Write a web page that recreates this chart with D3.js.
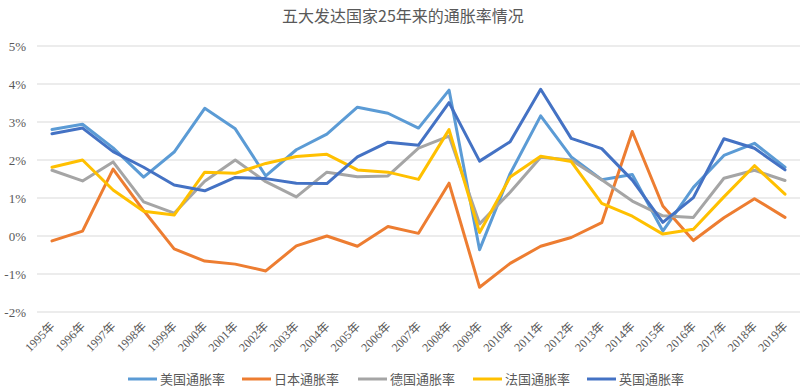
<!DOCTYPE html>
<html>
<head>
<meta charset="utf-8">
<script src="https://cdn.jsdelivr.net/npm/d3@7"></script>
<style>
  html, body { margin: 0; padding: 0; background: #fff; }
  svg { display: block; }
</style>
</head>
<body>
<svg id="chart" width="800" height="391"></svg>
<script>
const title = "五大发达国家25年来的通胀率情况";
const years = ["1995年","1996年","1997年","1998年","1999年","2000年","2001年","2002年","2003年","2004年","2005年","2006年","2007年","2008年","2009年","2010年","2011年","2012年","2013年","2014年","2015年","2016年","2017年","2018年","2019年"];
const seriesNames = ["美国通胀率","日本通胀率","德国通胀率","法国通胀率","英国通胀率"];
const seriesColors = ["#5B9BD5","#ED7D31","#A5A5A5","#FFC000","#4472C4"];
const usValues = [2.80,2.94,2.32,1.55,2.21,3.36,2.82,1.58,2.27,2.68,3.39,3.23,2.84,3.84,-0.36,1.64,3.16,2.08,1.48,1.62,0.13,1.28,2.12,2.44,1.81];
const jpValues = [-0.13,0.13,1.76,0.67,-0.34,-0.66,-0.74,-0.92,-0.26,0.00,-0.27,0.25,0.07,1.39,-1.35,-0.72,-0.27,-0.04,0.35,2.75,0.79,-0.12,0.48,0.98,0.49];
const deValues = [1.73,1.45,1.95,0.90,0.60,1.44,2.00,1.43,1.03,1.68,1.56,1.58,2.31,2.63,0.32,1.15,2.07,2.00,1.48,0.92,0.53,0.49,1.52,1.73,1.46];
const frValues = [1.81,2.00,1.21,0.65,0.55,1.68,1.65,1.91,2.09,2.15,1.74,1.68,1.49,2.80,0.09,1.55,2.10,1.96,0.86,0.52,0.05,0.18,1.03,1.85,1.10];
const ukValues = [2.69,2.84,2.22,1.81,1.34,1.19,1.54,1.51,1.39,1.38,2.08,2.47,2.39,3.51,1.97,2.48,3.86,2.57,2.30,1.47,0.36,1.01,2.56,2.31,1.74];
const yTicks = [-2,-1,0,1,2,3,4,5];

const allSeries = [usValues, jpValues, deValues, frValues, ukValues];

const svg = d3.select("#chart");
const x = d3.scalePoint().domain(years).range([52, 785]);
const y = d3.scaleLinear().domain([-2, 5]).range([312, 46]);

// title
svg.append("text")
  .attr("x", 403).attr("y", 22)
  .attr("text-anchor", "middle")
  .attr("font-family", "'Noto Sans CJK SC', sans-serif")
  .attr("font-size", 16)
  .attr("fill", "#595959")
  .text(title);

// gridlines
svg.append("g").selectAll("line").data(yTicks).join("line")
  .attr("x1", 37).attr("x2", 800)
  .attr("y1", d => y(d)).attr("y2", d => y(d))
  .attr("stroke", "#D9D9D9").attr("stroke-width", 1);

// y axis labels
const yAxis = d3.axisLeft(y).tickValues(yTicks).tickFormat(d => d + "%").tickSize(0).tickPadding(0);
const gy = svg.append("g").attr("transform", "translate(26,0)").call(yAxis);
gy.select(".domain").remove();
gy.selectAll("text")
  .attr("font-family", "'Liberation Serif', 'Noto Sans CJK SC', serif")
  .attr("font-size", 13)
  .attr("fill", "#595959");

// x axis labels
const xAxis = d3.axisBottom(x).tickSize(0).tickPadding(0);
const gx = svg.append("g").attr("transform", "translate(0,312)").call(xAxis);
gx.select(".domain").remove();
gx.selectAll("text")
  .attr("font-family", "'Liberation Serif', 'Noto Sans CJK SC', serif")
  .attr("font-size", 12)
  .attr("fill", "#595959")
  .attr("text-anchor", "end")
  .attr("dy", null)
  .attr("y", 0)
  .attr("transform", "translate(3,15) rotate(-45)");

// lines
const line = d3.line().x((d, i) => x(years[i])).y(d => y(d));
svg.append("g").selectAll("path").data(allSeries).join("path")
  .attr("d", d => line(d))
  .attr("fill", "none")
  .attr("stroke", (d, i) => seriesColors[i])
  .attr("stroke-width", 3)
  .attr("stroke-linejoin", "round")
  .attr("stroke-linecap", "round");

// legend
const legendX = [128, 242, 358, 473, 587];
const lg = svg.append("g").selectAll("g").data(seriesNames).join("g")
  .attr("transform", (d, i) => `translate(${legendX[i]},379)`);
lg.append("line").attr("x1", 0).attr("x2", 29).attr("y1", 0).attr("y2", 0)
  .attr("stroke", (d, i) => seriesColors[i]).attr("stroke-width", 3);
lg.append("text").attr("x", 32).attr("y", 5)
  .attr("font-family", "'Noto Sans CJK SC', sans-serif")
  .attr("font-size", 13)
  .attr("fill", "#595959")
  .text(d => d);
</script>
</body>
</html>
